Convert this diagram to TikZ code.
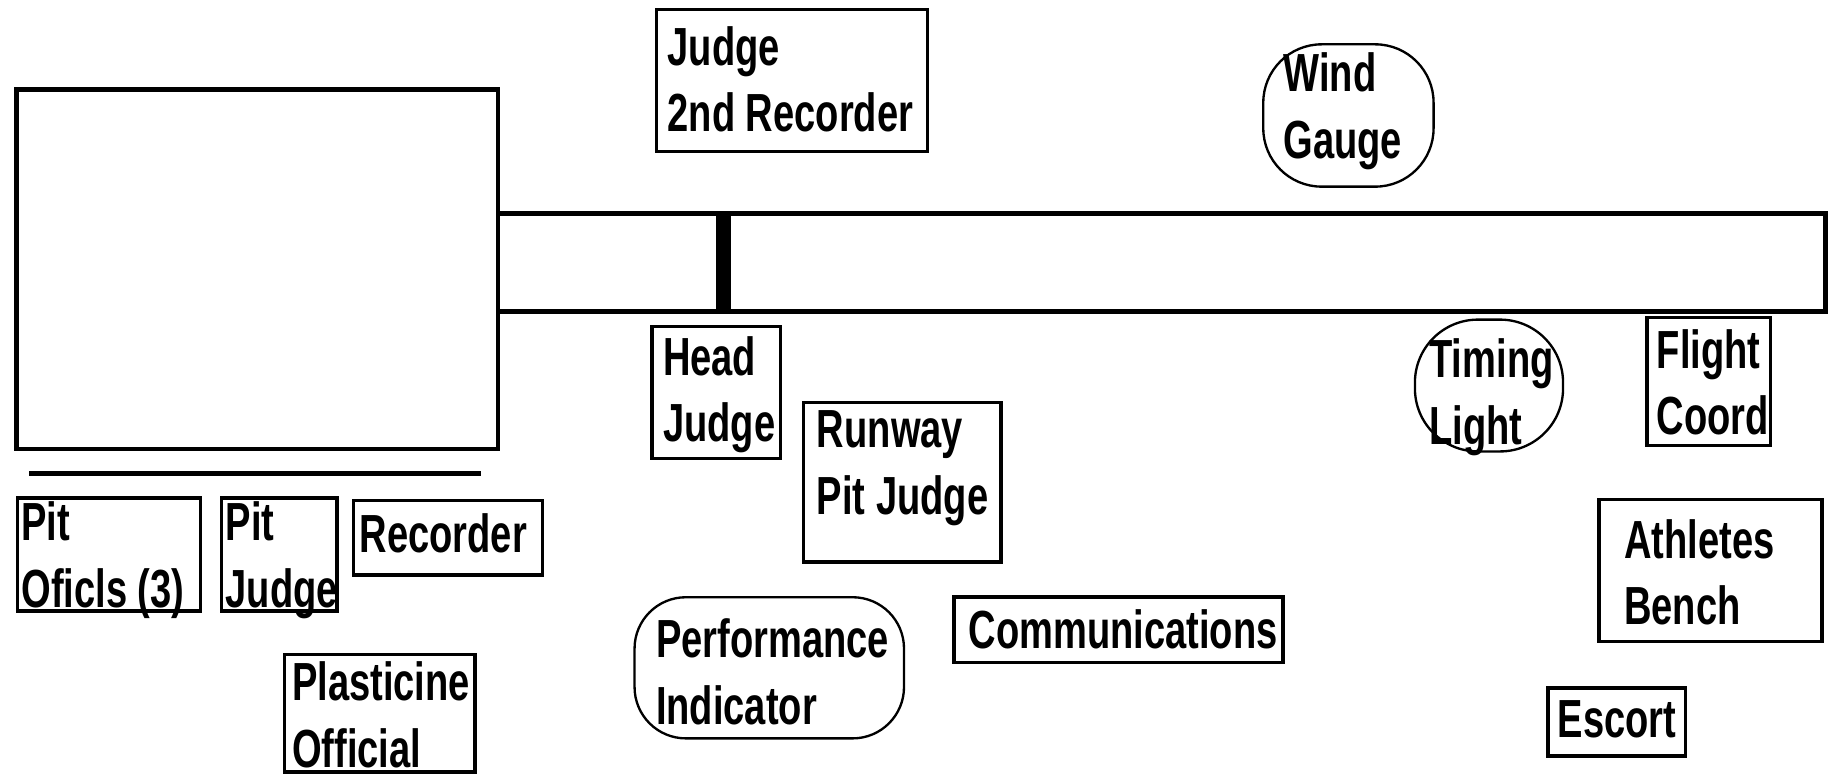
\documentclass[tikz,border=0pt]{standalone}
\usepackage{fontspec}
\newfontfamily\labfont{Liberation Sans}[FakeStretch=0.71]
\begin{document}
\begin{tikzpicture}[x=0.5pt,y=-0.5pt,
  box/.style={draw, line width=1.5pt, anchor=north west, inner sep=0pt, outer sep=0pt},
  rbox/.style={draw, line width=1pt, rounded corners=22pt, anchor=north west, inner sep=0pt, outer sep=0pt},
  lbl/.style={anchor=north west, inner sep=0pt, align=left, font=\labfont\bfseries\fontsize{23}{28.5}\selectfont}]
\useasboundingbox[fill=white] (0,0) rectangle (1568,665);
% pit and runway
\node[box, line width=2pt, minimum width=206.5pt, minimum height=154pt] (pit) at (14,77) {};
\node[box, line width=1.8pt, minimum width=569pt, minimum height=42pt] (runway) at (427,183) {};
\node[fill=black, inner sep=0pt, minimum width=6.5pt, minimum height=42pt, anchor=north west] (board) at (613,183) {};
\coordinate (ul) at (25,406);
\coordinate (ur) at (412,406);
\draw[line width=2pt] (ul) -- (ur);
% boxes
\node[box, minimum width=116pt, minimum height=61pt] (jr) at (563,8) {};
\node[lbl] (jrt) at (572,22) {Judge\\2nd Recorder};
\node[rbox, rounded corners=25pt, minimum width=73pt, minimum height=61pt] (wg) at (1083,38) {};
\node[lbl] (wgt) at (1100,45) {Wind\\Gauge};
\node[box, minimum width=55pt, minimum height=56.5pt] (hj) at (559,280) {};
\node[lbl] (hjt) at (568,288) {Head\\Judge};
\node[box, minimum width=84.5pt, minimum height=68.5pt] (rpj) at (689,345) {};
\node[lbl] (rpjt) at (700,352) {Runway\\Pit Judge};
\node[rbox, rounded corners=27pt, minimum width=63.5pt, minimum height=56.5pt] (tl) at (1213,274) {};
\node[lbl] (tlt) at (1225,290) {Timing\\Light};
\node[box, minimum width=53pt, minimum height=55pt] (fc) at (1412,272) {};
\node[lbl] (fct) at (1420,282) {Flight\\Coord};
\node[box, minimum width=95.5pt, minimum height=61pt] (ab) at (1371,428) {};
\node[lbl] (abt) at (1392,445) {Athletes\\Bench};
\node[box, minimum width=59pt, minimum height=29pt] (es) at (1327,590) {};
\node[lbl] (est) at (1335,600) {Escort};
\node[box, minimum width=141pt, minimum height=28pt] (cm) at (818,512) {};
\node[lbl] (cmt) at (830,522) {Communications};
\node[rbox, minimum width=115.5pt, minimum height=60.5pt] (pi) at (544,512) {};
\node[lbl] (pit2) at (562,530) {Performance\\Indicator};
\node[box, minimum width=78.5pt, minimum height=48.5pt] (po) at (15,427) {};
\node[lbl] (pot) at (18,430) {Pit\\Oficls (3)};
\node[box, minimum width=49.5pt, minimum height=48.5pt] (pj) at (190,427) {};
\node[lbl] (pjt) at (193,430) {Pit\\Judge};
\node[box, minimum width=81pt, minimum height=32pt] (rc) at (303,429) {};
\node[lbl] (rct) at (308,440) {Recorder};
\node[box, minimum width=81.5pt, minimum height=50.5pt] (pl) at (244,561) {};
\node[lbl] (plt) at (250,567) {Plasticine\\Official};
\end{tikzpicture}
\end{document}
